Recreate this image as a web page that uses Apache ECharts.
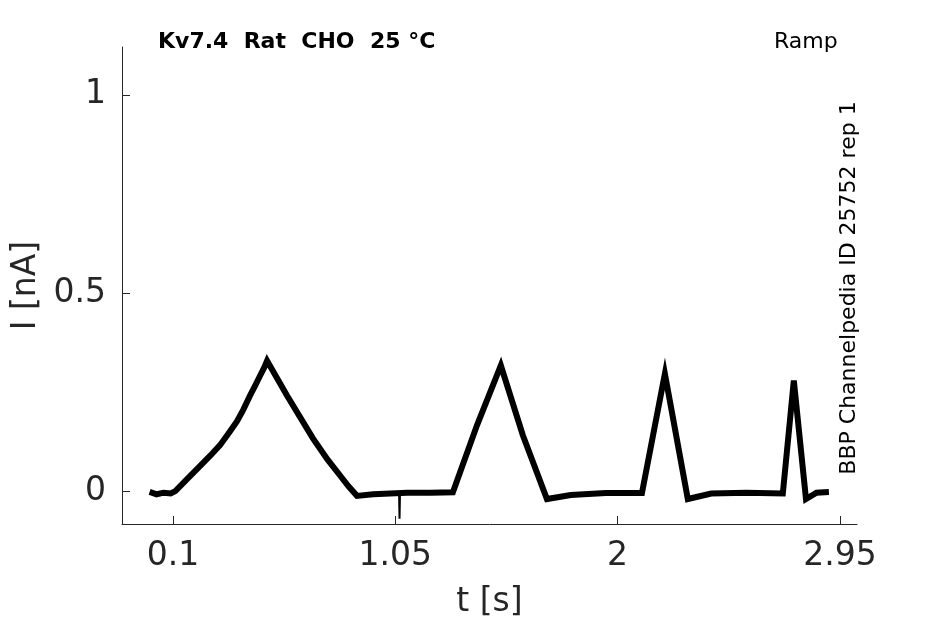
<!DOCTYPE html>
<html>
<head>
<meta charset="utf-8">
<script src="https://cdn.jsdelivr.net/npm/echarts@6/dist/echarts.min.js"></script>
<style>
html,body{margin:0;padding:0;background:#fff;}
#chart{width:945px;height:624px;}
</style>
</head>
<body>
<div id="chart"></div>
<script>
// time (s) of trace vertices
var traceTime = [0.000, 0.030, 0.060, 0.090, 0.110, 0.160, 0.215, 0.260, 0.301, 0.340, 0.373, 0.400, 0.429, 0.450, 0.472, 0.490, 0.502,
  0.587, 0.698, 0.760, 0.813, 0.850, 0.886, 0.955, 1.100, 1.200, 1.296,
  1.399, 1.501, 1.595, 1.698, 1.800, 1.950, 2.104,
  2.202, 2.300, 2.400, 2.550, 2.706,
  2.753, 2.805, 2.850, 2.903];
// current (nA) at those vertices
var traceCurrent = [-0.002, -0.008, -0.004, -0.006, 0.000, 0.030, 0.063, 0.090, 0.116, 0.148, 0.176, 0.205, 0.241, 0.265, 0.291, 0.312, 0.329,
  0.241, 0.133, 0.080, 0.040, 0.012, -0.012, -0.008, -0.004, -0.004, -0.003,
  0.166, 0.317, 0.141, -0.020, -0.010, -0.005, -0.005,
  0.296, -0.020, -0.006, -0.004, -0.006,
  0.279, -0.020, -0.004, -0.002];
// brief artifact spike
var spikeTime = [1.066, 1.068, 1.070];
var spikeCurrent = [-0.005, -0.070, -0.005];

var xTicks = [0.1, 1.05, 2, 2.95];
var yTicks = [0, 0.5, 1];

var titleText = 'Kv7.4  Rat  CHO  25 °C';
var protocolText = 'Ramp';
var sourceText = 'BBP Channelpedia ID 25752 rep 1';

function zip(a, b) { return a.map(function (v, i) { return [v, b[i]]; }); }

var axisColor = '#262626';
var font = 'DejaVu Sans';

var chart = echarts.init(document.getElementById('chart'));
chart.setOption({
  animation: false,
  backgroundColor: '#ffffff',
  title: [
    { text: titleText, left: 153, top: 26,
      textStyle: { fontFamily: font, fontWeight: 'bold', fontSize: 22, color: '#000' } },
    { text: protocolText, left: 769, top: 26,
      textStyle: { fontFamily: font, fontWeight: 'normal', fontSize: 22, color: '#000' } }
  ],
  graphic: [{
    type: 'text', x: 849, y: 288, rotation: Math.PI / 2,
    style: { text: sourceText, fontFamily: font, fontSize: 22, fill: '#000',
      textAlign: 'center', textVerticalAlign: 'middle' }
  }],
  grid: { left: 122, top: 47, right: 88, bottom: 98, containLabel: false },
  xAxis: {
    type: 'value', min: -0.118, max: 3.023,
    name: 't [s]', nameLocation: 'middle', nameGap: 62,
    nameTextStyle: { fontFamily: font, fontSize: 33, color: axisColor },
    axisLine: { show: true, onZero: false, lineStyle: { color: axisColor, width: 1 } },
    axisTick: { show: true, inside: true, length: 8, customValues: xTicks, lineStyle: { color: axisColor } },
    axisLabel: { customValues: xTicks, margin: 16, fontFamily: font, fontSize: 33, color: axisColor,
      formatter: function (v) { return String(v); } },
    splitLine: { show: false }
  },
  yAxis: {
    type: 'value', min: -0.083, max: 1.1206,
    name: 'I [nA]', nameLocation: 'middle', nameGap: 70, nameRotate: 90,
    nameTextStyle: { fontFamily: font, fontSize: 33, color: axisColor },
    axisLine: { show: true, onZero: false, lineStyle: { color: axisColor, width: 1 } },
    axisTick: { show: true, inside: true, length: 8, customValues: yTicks, lineStyle: { color: axisColor } },
    axisLabel: { customValues: yTicks, margin: 16, fontFamily: font, fontSize: 33, color: axisColor,
      formatter: function (v) { return String(v); } },
    splitLine: { show: false }
  },
  series: [
    { type: 'line', data: zip(traceTime, traceCurrent), showSymbol: false,
      lineStyle: { color: '#000', width: 6, join: 'miter' } },
    { type: 'line', data: zip(spikeTime, spikeCurrent), showSymbol: false,
      lineStyle: { color: '#000', width: 2 } }
  ]
});
</script>
</body>
</html>
